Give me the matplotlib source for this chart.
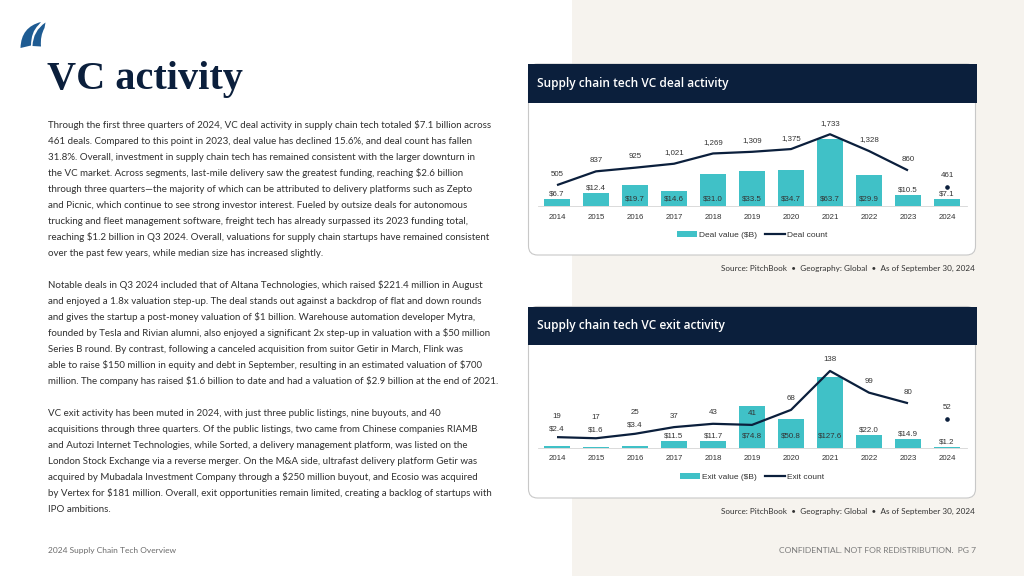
"""
Supply chain tech VC activity slide: text column on the left,
deal and exit activity charts on the right.
"""

import numpy as np
import matplotlib.pyplot as plt
from matplotlib.patches import Rectangle, FancyBboxPatch, PathPatch
from matplotlib.path import Path
from matplotlib.lines import Line2D

# Data
years = [str(y) for y in range(2014, 2025)]
deal_value = [6.7, 12.4, 19.7, 14.6, 31.0, 33.5, 34.7, 63.7, 29.9, 10.5, 7.1]
deal_count = [505, 837, 925, 1021, 1269, 1309, 1375, 1733, 1328, 860, 461]
exit_value = [2.4, 1.6, 3.4, 11.5, 11.7, 74.8, 50.8, 127.6, 22.0, 14.9, 1.2]
exit_count = [19, 17, 25, 37, 43, 41, 68, 138, 99, 80, 52]

para1 = [
    "Through the first three quarters of 2024, VC deal activity in supply chain tech totaled $7.1 billion across",
    "461 deals. Compared to this point in 2023, deal value has declined 15.6%, and deal count has fallen",
    "31.8%. Overall, investment in supply chain tech has remained consistent with the larger downturn in",
    "the VC market. Across segments, last-mile delivery saw the greatest funding, reaching $2.6 billion",
    "through three quarters\u2014the majority of which can be attributed to delivery platforms such as Zepto",
    "and Picnic, which continue to see strong investor interest. Fueled by outsize deals for autonomous",
    "trucking and fleet management software, freight tech has already surpassed its 2023 funding total,",
    "reaching $1.2 billion in Q3 2024. Overall, valuations for supply chain startups have remained consistent",
    "over the past few years, while median size has increased slightly.",
]
para2 = [
    "Notable deals in Q3 2024 included that of Altana Technologies, which raised $221.4 million in August",
    "and enjoyed a 1.8x valuation step-up. The deal stands out against a backdrop of flat and down rounds",
    "and gives the startup a post-money valuation of $1 billion. Warehouse automation developer Mytra,",
    "founded by Tesla and Rivian alumni, also enjoyed a significant 2x step-up in valuation with a $50 million",
    "Series B round. By contrast, following a canceled acquisition from suitor Getir in March, Flink was",
    "able to raise $150 million in equity and debt in September, resulting in an estimated valuation of $700",
    "million. The company has raised $1.6 billion to date and had a valuation of $2.9 billion at the end of 2021.",
]
para3 = [
    "VC exit activity has been muted in 2024, with just three public listings, nine buyouts, and 40",
    "acquisitions through three quarters. Of the public listings, two came from Chinese companies RIAMB",
    "and Autozi Internet Technologies, while Sorted, a delivery management platform, was listed on the",
    "London Stock Exchange via a reverse merger. On the M&A side, ultrafast delivery platform Getir was",
    "acquired by Mubadala Investment Company through a $250 million buyout, and Ecosio was acquired",
    "by Vertex for $181 million. Overall, exit opportunities remain limited, creating a backlog of startups with",
    "IPO ambitions.",
]
source_text = "Source: PitchBook  \u2022  Geography: Global  \u2022  As of September 30, 2024"

# Style
W, H = 1024, 576
PT = 0.72  # points per pixel at dpi 100
NAVY = '#0b1f3c'
TEAL = '#40c1c7'
BEIGE = '#f6f3ee'
TXT = '#303030'
CHART_FONT = ['Liberation Sans', 'DejaVu Sans']
CHART_SIZE = 5.7

plt.rcParams['font.family'] = ['Lato', 'DejaVu Sans']

fig = plt.figure(figsize=(W / 100, H / 100), dpi=100)
fig.patch.set_facecolor('white')

# full-figure overlay in pixel coordinates (y down)
bg = fig.add_axes([0, 0, 1, 1], zorder=0)
bg.set_xlim(0, W)
bg.set_ylim(H, 0)
bg.axis('off')
bg.add_patch(Rectangle((572, 0), W - 572, H, fc=BEIGE, ec='none', zorder=0))


def frac(x0, y0, x1, y1):
    return [x0 / W, 1 - y1 / H, (x1 - x0) / W, (y1 - y0) / H]


def txt(x, y, s, **kw):
    kw.setdefault('va', 'center')
    return bg.text(x, y, s, parse_math=False, **kw)


# logo
LOGO = '#1e5b92'
codes = [Path.MOVETO, Path.CURVE3, Path.CURVE3, Path.LINETO,
         Path.CURVE3, Path.CURVE3, Path.CLOSEPOLY]
p1 = Path([(20.5, 48), (21, 27), (41, 22), (38.5, 25), (31, 32), (31, 45.5), (20.5, 48)], codes)
p2 = Path([(32.5, 46), (33, 31), (45.5, 22.5), (44.5, 28), (40, 36), (41, 46.5), (32.5, 46)], codes)
for p in (p1, p2):
    bg.add_patch(PathPatch(p, fc=LOGO, ec='none', zorder=2))

# title and body text
txt(47, 80, "VC activity", fontsize=29, weight='bold', color=NAVY,
    family=['Liberation Serif', 'DejaVu Serif'])

for start, lines in ((125, para1), (285, para2), (413.3, para3)):
    for i, line in enumerate(lines):
        txt(48, start + 16 * i, line, fontsize=7.05, color=TXT)

txt(48, 550.5, "2024 Supply Chain Tech Overview", fontsize=6.0, color='#6b6b6b')
txt(976, 550.5, "CONFIDENTIAL. NOT FOR REDISTRIBUTION.  PG 7", fontsize=6.1,
    color='#7a7a7a', ha='right')


def chart(box_top, head_bot, box_bot, title, values, counts, plot_top, base,
          px_val, px_cnt, in_off, labels, leg_y, src_y):
    bg.add_patch(FancyBboxPatch((528.5, box_top), 447, box_bot - box_top,
                                boxstyle='round,pad=0,rounding_size=9',
                                fc='white', ec='#c8c8c8', lw=0.8, zorder=1))
    bg.add_patch(Rectangle((528, box_top), 448.5, head_bot - box_top, fc=NAVY,
                           ec='none', zorder=2))
    txt(537, (box_top + head_bot) / 2, title, color='white', fontsize=8.6,
        weight='semibold', family=['Open Sans', 'DejaVu Sans'], zorder=3)
    txt(975, src_y, source_text, fontsize=5.9, color='#333333', ha='right')

    x = np.arange(len(years))
    ax = fig.add_axes(frac(537.5, plot_top, 966.5, base), zorder=3)
    ax.patch.set_alpha(0)
    ax.bar(x, values, width=0.66, color=TEAL, zorder=2)
    ax.set_xlim(-0.5, len(years) - 0.5)
    ax.set_ylim(0, (base - plot_top) / px_val)
    ax.set_xticks(x, years)
    ax.set_yticks([])
    ax.tick_params(axis='x', length=0, pad=5.5, labelsize=CHART_SIZE, labelcolor='#333333')
    for lab in ax.get_xticklabels():
        lab.set_family(CHART_FONT)
    for side in ('top', 'left', 'right'):
        ax.spines[side].set_visible(False)
    ax.spines['bottom'].set_color('#d5d5d5')
    ax.spines['bottom'].set_linewidth(0.6)

    ax2 = ax.twinx()
    ax2.set_ylim(0, (base - plot_top) / px_cnt)
    ax2.set_yticks([])
    for side in ax2.spines:
        ax2.spines[side].set_visible(False)
    ax2.plot(x[:-1], counts[:-1], color=NAVY, lw=1.6, solid_capstyle='butt', zorder=3)
    ax2.plot(x[-1:], counts[-1:], 'o', color=NAVY, ms=2.3, zorder=3)

    lab_kw = dict(textcoords='offset points', ha='center', va='center',
                  fontsize=CHART_SIZE, color='#333333', family=CHART_FONT,
                  parse_math=False, annotation_clip=False, zorder=4)
    for i, (v, c) in enumerate(zip(values, counts)):
        bar_px = v * px_val
        line_px = c * px_cnt
        gap_min = 10 if i == len(values) - 1 else 13
        cnt_off = 11
        if bar_px >= 14:
            ax.annotate(f"${v:.1f}", (i, 0), xytext=(0, in_off * PT), **lab_kw)
        elif line_px - bar_px >= gap_min:
            ax.annotate(f"${v:.1f}", (i, v), xytext=(0, 5.0 * PT), **lab_kw)
        else:
            ax2.annotate(f"${v:.1f}", (i, c), xytext=(0, 8.5 * PT), **lab_kw)
            cnt_off = 21
        ax2.annotate(f"{c:,}", (i, c), xytext=(0, cnt_off * PT), **lab_kw)

    handles = [Rectangle((0, 0), 1, 1, fc=TEAL, ec='none'),
               Line2D([], [], color=NAVY, lw=1.6)]
    leg = fig.legend(handles, labels, loc='center', bbox_to_anchor=(752 / W, 1 - leg_y / H),
                     ncol=2, frameon=False, handlelength=2.4, handleheight=0.6,
                     columnspacing=0.9, handletextpad=0.25,
                     prop={'family': CHART_FONT, 'size': CHART_SIZE + 0.3})
    for t in leg.get_texts():
        t.set_color('#333333')


chart(64, 102.5, 255, "Supply chain tech VC deal activity", deal_value, deal_count,
      plot_top=115, base=206, px_val=1.047, px_cnt=0.0414, in_off=7,
      labels=["Deal value ($B)", "Deal count"], leg_y=235, src_y=268.5)

chart(306.5, 345, 498, "Supply chain tech VC exit activity", exit_value, exit_count,
      plot_top=355, base=447.7, px_val=0.556, px_cnt=0.556, in_off=11.5,
      labels=["Exit value ($B)", "Exit count"], leg_y=477, src_y=511)

fig.savefig('out.png', dpi=100, facecolor=fig.get_facecolor())
